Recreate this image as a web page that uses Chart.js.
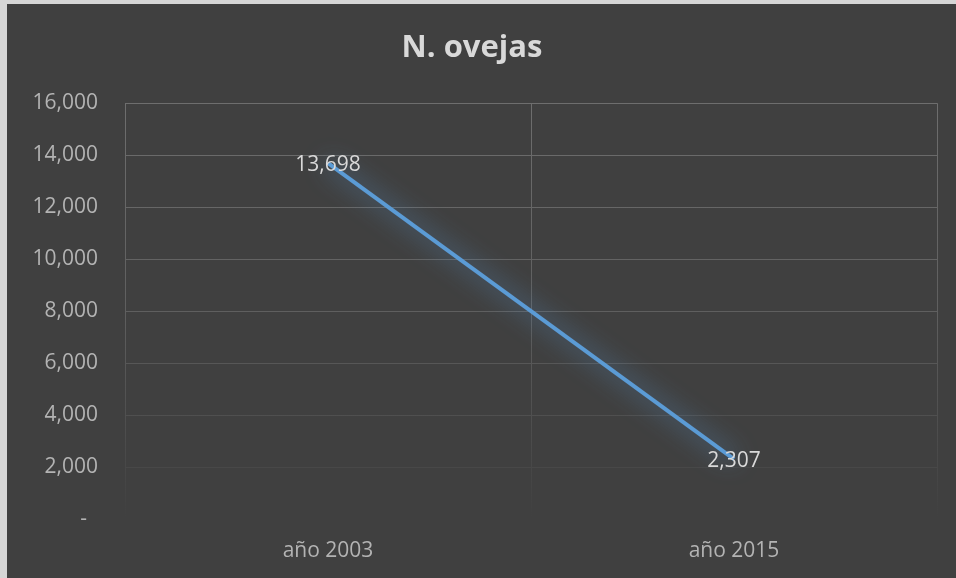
<!DOCTYPE html>
<html>
<head>
<meta charset="utf-8">
<script src="https://cdn.jsdelivr.net/npm/chart.js@4.4.0/dist/chart.umd.min.js"></script>
<style>
  html, body { margin: 0; padding: 0; background: #d6d6d6; }
  #wrap { position: absolute; left: 7px; top: 4px; width: 949px; height: 574px; background: #404040; }
</style>
</head>
<body>
<div id="wrap"><canvas id="myChart" width="949" height="574"></canvas></div>
<script>
'use strict';

// datos del gráfico
const categorias = ['año 2003', 'año 2015'];
const ovejas = [13698, 2307];
const tituloTexto = 'N. ovejas';
const yMin = 0;
const yMax = 16000;
const yPaso = 2000;

const fuente = "'Open Sans', 'Noto Sans', sans-serif";

// lineas de la rejilla que se desvanecen hacia abajo
function colorRejilla(context) {
    const chart = context.chart;
    const area = chart.chartArea;
    if (!area) return '#5a5a5a';
    const g = chart.ctx.createLinearGradient(0, area.top, 0, area.bottom);
    g.addColorStop(0, 'rgba(110,110,110,1)');
    g.addColorStop(0.5, 'rgba(95,95,95,1)');
    g.addColorStop(1, 'rgba(64,64,64,1)');
    return g;
}

// sombra azul alrededor de la linea
const brillo = {
    id: 'brillo',
    beforeDatasetDraw(chart) {
        const c = chart.ctx;
        c.save();
        c.shadowColor = 'rgba(91, 155, 213, 1)';
        c.shadowBlur = 24;
    },
    afterDatasetDraw(chart) {
        chart.ctx.restore();
    }
};

// etiquetas de datos centradas en el punto
const etiquetas = {
    id: 'etiquetas',
    afterDatasetsDraw(chart) {
        const c = chart.ctx;
        const meta = chart.getDatasetMeta(0);
        c.save();
        c.font = '21px ' + fuente;
        c.fillStyle = '#d9d9d9';
        c.textAlign = 'center';
        c.textBaseline = 'middle';
        meta.data.forEach((p, i) => {
            c.fillText(ovejas[i].toLocaleString('en-US'), p.x, p.y + 2);
        });
        c.restore();
    }
};

const ctx = document.getElementById('myChart').getContext('2d');
const myChart = new Chart(ctx, {
    type: 'line',
    data: {
        labels: categorias,
        datasets: [{
            data: ovejas,
            borderColor: '#5b9bd5',
            borderWidth: 4,
            pointRadius: 0,
            tension: 0
        }]
    },
    options: {
        responsive: false,
        maintainAspectRatio: false,
        animation: false,
        devicePixelRatio: 1,
        layout: { padding: { left: 0, right: 19, top: 0, bottom: 0 } },
        plugins: {
            legend: { display: false },
            tooltip: { enabled: false },
            title: {
                display: true,
                text: tituloTexto,
                color: '#d9d9d9',
                font: { family: fuente, size: 31, weight: 'bold' },
                padding: { top: 26, bottom: 36 }
            }
        },
        scales: {
            x: {
                offset: true,
                grid: { color: colorRejilla, lineWidth: 1, offset: true, drawTicks: false },
                border: { display: false },
                ticks: { color: '#b3b3b3', font: { family: fuente, size: 21 }, padding: 19 },
                afterFit(scale) { scale.height = 59; }
            },
            y: {
                min: yMin,
                max: yMax,
                grid: { color: colorRejilla, lineWidth: 1, drawTicks: false },
                border: { display: false },
                ticks: {
                    stepSize: yPaso,
                    color: '#b3b3b3',
                    font: { family: fuente, size: 21 },
                    padding: 27,
                    callback: v => v === 0 ? '-  ' : v.toLocaleString('en-US')
                },
                afterFit(scale) { scale.width = 118; }
            }
        }
    },
    plugins: [brillo, etiquetas]
});
</script>
</body>
</html>
